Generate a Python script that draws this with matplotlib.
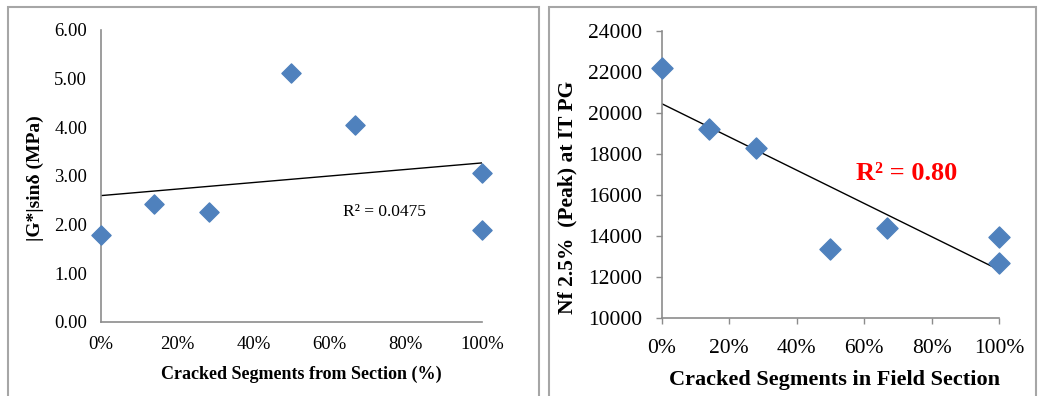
import matplotlib.pyplot as plt
import numpy as np
from matplotlib.patches import Rectangle
from matplotlib.ticker import PercentFormatter

plt.rcParams['font.family'] = ['Liberation Serif', 'DejaVu Serif']

# cracked share of each section (fraction)
cracked_g = [0.0, 0.139, 0.284, 0.498, 0.667, 1.0, 1.0]
gsin = [1.78, 2.42, 2.26, 5.11, 4.05, 3.07, 1.90]
r2_g = 0.0475

cracked_nf = [0.0, 0.141, 0.281, 0.4985, 0.669, 1.0, 1.0]
nf_peak = [22200, 19200, 18300, 13350, 14400, 13950, 12700]
r2_nf = 0.80

blue = '#4f81bd'
axcol = '#8c8c8c'

fig = plt.figure(figsize=(10.38, 3.96), dpi=100)

# panel frames
fig.patches.append(Rectangle((8 / 1038, -0.1), 531 / 1038, 1.1 - 7 / 396,
                             transform=fig.transFigure, fill=False,
                             ec='#a6a6a6', lw=1.5))
fig.patches.append(Rectangle((549 / 1038, -0.1), 487 / 1038, 1.1 - 7 / 396,
                             transform=fig.transFigure, fill=False,
                             ec='#a6a6a6', lw=1.5))


def trend(ax, x, y):
    k, b = np.polyfit(x, y, 1)
    xs = np.array([0.0, 1.0])
    ax.plot(xs, k * xs + b, color='black', lw=1.0, zorder=2)


def style(ax, fs, tick_len):
    for s in ['top', 'right']:
        ax.spines[s].set_visible(False)
    for s in ['left', 'bottom']:
        ax.spines[s].set_color(axcol)
        ax.spines[s].set_linewidth(1.2)
    ax.tick_params(colors=axcol, length=tick_len, width=1.0, labelsize=fs,
                   labelcolor='black')
    ax.xaxis.set_major_formatter(PercentFormatter(1.0, decimals=0))
    ax.set_xlim(0, 1.0)
    ax.set_xticks(np.arange(0, 1.01, 0.2))


# |G*|sin(delta) vs cracked segments
ax1 = fig.add_axes([101 / 1038, 1 - 322 / 396, 381 / 1038, 292 / 396])
ax1.scatter(cracked_g, gsin, marker='D', s=95, color=blue, zorder=3,
            clip_on=False)
trend(ax1, cracked_g, gsin)
ax1.set_ylim(0, 6)
ax1.set_yticks(np.arange(0, 6.01, 1))
ax1.set_yticklabels([f'{v:.2f}' for v in np.arange(0, 6.01, 1)])
style(ax1, 13.5, 0)
ax1.tick_params(axis='x', pad=10)
ax1.tick_params(axis='y', pad=10)
ax1.text(0.635, 2.25, f'R² = {r2_g:.4f}', fontsize=12.5, va='center')
ax1.set_xlabel('Cracked Segments from Section (%)', fontsize=13,
               fontweight='bold')
ax1.xaxis.set_label_coords(0.526, -0.151)
ax1.set_ylabel('|G*|sinδ (MPa)', fontsize=14, fontweight='bold')
ax1.yaxis.set_label_coords(-0.150, 0.493)

# Nf 2.5% vs cracked segments
ax2 = fig.add_axes([661.7 / 1038, 1 - 318.3 / 396, 337.3 / 1038,
                    287.6 / 396])
ax2.scatter(cracked_nf, nf_peak, marker='D', s=115, color=blue, zorder=3,
            clip_on=False)
trend(ax2, cracked_nf, nf_peak)
ax2.set_ylim(10000, 24000)
ax2.set_yticks(np.arange(10000, 24001, 2000))
style(ax2, 15.5, 4)
ax2.tick_params(axis='x', pad=11)
ax2.tick_params(axis='y', pad=10)
ax2.text(0.576, 17056, f'R² = {r2_nf:.2f}', fontsize=19, fontweight='bold',
         color='#ff0000', va='center')
ax2.set_xlabel('Cracked Segments in Field Section', fontsize=16,
               fontweight='bold')
ax2.xaxis.set_label_coords(0.511, -0.18)
ax2.set_ylabel('Nf 2.5%  (Peak) at IT PG', fontsize=15.5, fontweight='bold')
ax2.yaxis.set_label_coords(-0.251, 0.42)

fig.savefig('out.png', dpi=100)
